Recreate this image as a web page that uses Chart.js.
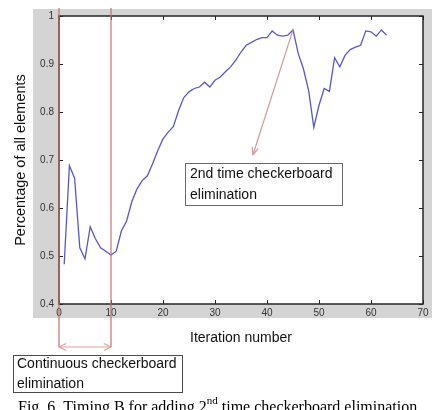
<!DOCTYPE html>
<html>
<head>
<meta charset="utf-8">
<script src="https://cdn.jsdelivr.net/npm/chart.js@4.4.1/dist/chart.umd.min.js"></script>
<style>
html,body{margin:0;padding:0;background:#fff;}
canvas{display:block;}
</style>
</head>
<body>
<canvas id="c" width="435" height="410"></canvas>
<script>
// ---- data ----
const iterations = [1,2,3,4,5,6,7,8,9,10,11,12,13,14,15,16,17,18,19,20,21,22,23,24,25,26,27,28,29,30,31,32,33,34,35,36,37,38,39,40,41,42,43,44,45,46,47,48,49,50,51,52,53,54,55,56,57,58,59,60,61,62,63];
const percentage = [0.483,0.688,0.662,0.517,0.494,0.561,0.536,0.517,0.510,0.502,
                    0.510,0.552,0.573,0.613,0.640,0.657,0.667,0.692,0.720,0.744,
                    0.758,0.770,0.803,0.830,0.842,0.849,0.852,0.862,0.852,0.866,
                    0.873,0.884,0.894,0.908,0.925,0.939,0.945,0.951,0.955,0.955,
                    0.969,0.960,0.958,0.960,0.971,0.922,0.890,0.845,0.768,0.814,
                    0.849,0.843,0.913,0.894,0.918,0.930,0.935,0.939,0.969,0.967,
                    0.958,0.971,0.960];
const xTicks = [0,10,20,30,40,50,60,70];
const yTicks = [0.4,0.5,0.6,0.7,0.8,0.9,1];
const xTickLabels = ['0','10','20','30','40','50','60','70'];
const yTickLabels = ['0.4','0.5','0.6','0.7','0.8','0.9','1'];
const xTitle = 'Iteration number';
const yTitle = 'Percentage of all elements';
const continuousRange = [0, 10];           // iterations of continuous elimination
const secondElimAt = 45;                   // iteration of 2nd elimination
const box1Lines = ['Continuous checkerboard', 'elimination'];
const box2Lines = ['2nd time checkerboard', 'elimination'];
const captionParts = ['Fig. 6. Timing B for adding 2', 'nd', ' time checkerboard elimination'];

const SANS = '"Liberation Sans", Arial, sans-serif';
const SERIF = '"Liberation Serif", "Times New Roman", serif';

function line(ctx, x1, y1, x2, y2) {
  ctx.beginPath(); ctx.moveTo(x1, y1); ctx.lineTo(x2, y2); ctx.stroke();
}
function arrowHead(ctx, x, y, ang, len, spread) {
  ctx.beginPath();
  ctx.moveTo(x + len * Math.cos(ang + spread), y + len * Math.sin(ang + spread));
  ctx.lineTo(x, y);
  ctx.lineTo(x + len * Math.cos(ang - spread), y + len * Math.sin(ang - spread));
  ctx.stroke();
}

const figurePlugin = {
  id: 'figure',
  beforeDraw(chart) {
    const {ctx, chartArea: a} = chart;
    ctx.save();
    ctx.fillStyle = '#ffffff';
    ctx.fillRect(0, 0, chart.width, chart.height);
    ctx.fillStyle = '#d4d4d4';
    ctx.fillRect(a.left - 26, a.top - 7, (a.right - a.left) + 35, (a.bottom - a.top) + 21);
    ctx.fillStyle = '#ffffff';
    ctx.fillRect(a.left, a.top, a.right - a.left, a.bottom - a.top);
    ctx.restore();
  },
  afterDatasetsDraw(chart) {
    const {ctx, chartArea: a, scales: {x, y}} = chart;
    ctx.save();
    // axes frame
    ctx.strokeStyle = '#262626';
    ctx.lineWidth = 1.5;
    ctx.strokeRect(a.left, a.top, a.right - a.left, a.bottom - a.top);
    ctx.lineWidth = 1;
    xTicks.forEach(v => {
      const px = Math.round(x.getPixelForValue(v)) + 0.5;
      line(ctx, px, a.top, px, a.top + 4);
      line(ctx, px, a.bottom, px, a.bottom - 4);
    });
    yTicks.forEach(v => {
      const py = Math.round(y.getPixelForValue(v)) + 0.5;
      line(ctx, a.left, py, a.left + 4, py);
      line(ctx, a.right, py, a.right - 4, py);
    });

    // continuous elimination markers
    const x0 = x.getPixelForValue(continuousRange[0]);
    const x1 = x.getPixelForValue(continuousRange[1]);
    const arrowY = a.bottom + 43;
    ctx.strokeStyle = 'rgba(196,110,110,0.9)';
    ctx.lineWidth = 1.3;
    line(ctx, x0, a.top - 8, x0, arrowY);
    line(ctx, x1, a.top - 8, x1, arrowY);
    ctx.strokeStyle = '#e0a0a0';
    ctx.lineWidth = 1.2;
    line(ctx, x0, arrowY, x1, arrowY);
    arrowHead(ctx, x0, arrowY, 0, 8, 0.45);
    arrowHead(ctx, x1, arrowY, Math.PI, 8, 0.45);

    // arrow to second elimination
    const idx = iterations.indexOf(secondElimAt);
    const sx = x.getPixelForValue(secondElimAt);
    const sy = y.getPixelForValue(percentage[idx]);
    const ex = x.getPixelForValue(37.3);
    const ey = y.getPixelForValue(0.711);
    ctx.strokeStyle = '#d09a9a';
    ctx.lineWidth = 1.2;
    line(ctx, sx, sy, ex, ey);
    const ang = Math.atan2(sy - ey, sx - ex);
    arrowHead(ctx, ex, ey, ang, 8, 0.4);

    // text boxes
    ctx.font = '14px ' + SANS;
    ctx.textBaseline = 'middle';
    ctx.textAlign = 'left';
    ctx.strokeStyle = '#6a6a6a';
    ctx.lineWidth = 1;
    ctx.fillStyle = '#ffffff';
    ctx.fillRect(185, 163, 157, 42);
    ctx.strokeRect(185.5, 163.5, 157, 42);
    ctx.fillStyle = '#111';
    ctx.fillText(box2Lines[0], 190, 174);
    ctx.fillText(box2Lines[1], 190, 195);

    ctx.strokeStyle = '#4a4a4a';
    ctx.fillStyle = '#ffffff';
    ctx.fillRect(13, 355, 169, 37);
    ctx.strokeRect(13.5, 355.5, 169, 37);
    ctx.fillStyle = '#111';
    ctx.fillText(box1Lines[0], 17, 364);
    ctx.fillText(box1Lines[1], 17, 384);

    // caption
    ctx.textBaseline = 'alphabetic';
    ctx.fillStyle = '#000';
    let cx = 18;
    const base = 412;
    ctx.font = '16px ' + SERIF;
    ctx.fillText(captionParts[0], cx, base);
    cx += ctx.measureText(captionParts[0]).width;
    ctx.font = '11px ' + SERIF;
    ctx.fillText(captionParts[1], cx, base - 8);
    cx += ctx.measureText(captionParts[1]).width;
    ctx.font = '16px ' + SERIF;
    ctx.fillText(captionParts[2], cx, base);
    ctx.restore();
  }
};

new Chart(document.getElementById('c'), {
  type: 'line',
  data: {
    datasets: [{
      data: iterations.map((it, i) => ({x: it, y: percentage[i]})),
      borderColor: '#5858cc',
      borderWidth: 1.3,
      pointRadius: 0,
      fill: false,
      tension: 0
    }]
  },
  options: {
    responsive: false,
    devicePixelRatio: 1,
    animation: false,
    layout: {padding: {left: 0, top: 16, right: 12, bottom: 0}},
    plugins: {legend: {display: false}, tooltip: {enabled: false}},
    scales: {
      x: {
        type: 'linear', min: 0, max: 70,
        afterBuildTicks: s => { s.ticks = xTicks.map(v => ({value: v})); },
        afterFit: s => { s.height = 106; },
        grid: {display: false, drawTicks: false},
        border: {display: false},
        ticks: {
          padding: 3, color: '#333', font: {family: SANS, size: 10},
          maxRotation: 0, autoSkip: false,
          callback: (v) => xTickLabels[xTicks.indexOf(v)]
        },
        title: {display: true, text: xTitle, color: '#111',
                font: {family: SANS, size: 14}, padding: {top: 0, bottom: 63}}
      },
      y: {
        type: 'linear', min: 0.4, max: 1,
        afterBuildTicks: s => { s.ticks = yTicks.map(v => ({value: v})); },
        afterFit: s => { s.width = 59; },
        grid: {display: false, drawTicks: false},
        border: {display: false},
        ticks: {
          padding: 5, color: '#333', font: {family: SANS, size: 10},
          autoSkip: false,
          callback: (v) => yTickLabels[yTicks.findIndex(t => Math.abs(t - v) < 1e-9)]
        },
        title: {display: true, text: yTitle, color: '#111',
                font: {family: SANS, size: 14.5}, padding: {top: 12, bottom: 0}}
      }
    }
  },
  plugins: [figurePlugin]
});
</script>
</body>
</html>
